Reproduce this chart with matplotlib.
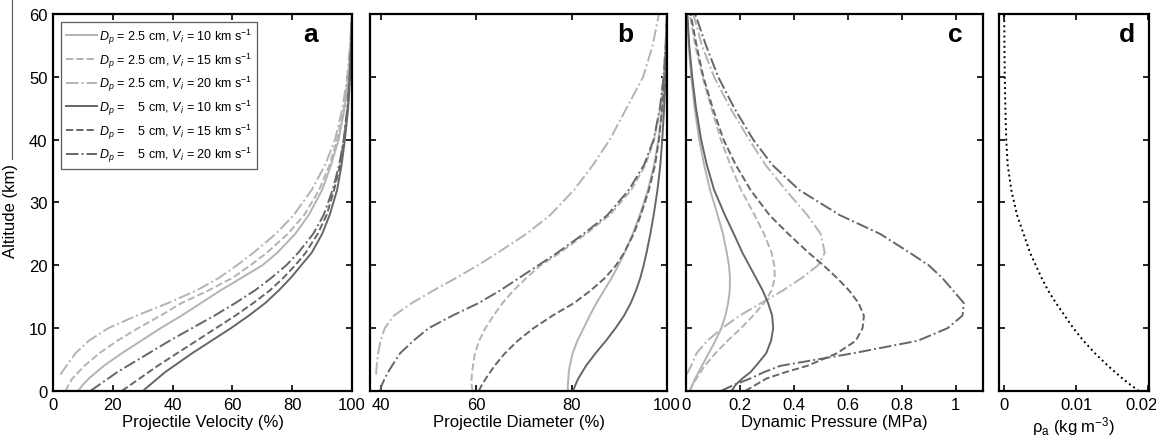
import numpy as np
import matplotlib
matplotlib.use("Agg")
import matplotlib.pyplot as plt
from matplotlib.lines import Line2D
from matplotlib.transforms import ScaledTranslation

plt.rcParams['font.family'] = ['Liberation Sans', 'DejaVu Sans']
plt.rcParams['mathtext.fontset'] = 'custom'
plt.rcParams['mathtext.rm'] = 'Liberation Sans'
plt.rcParams['mathtext.it'] = 'Liberation Sans:italic'
plt.rcParams['mathtext.bf'] = 'Liberation Sans:bold'

## Données (altitude en km)
ALT = [0, 1, 2, 3, 4, 6, 8, 10, 12, 14, 16, 18, 20, 22, 25, 28, 32, 36, 40, 45, 50, 55, 60]
# la courbe 2.5 cm / 20 km/s s'arrête vers 2.6 km
ALT_LDD = [2.6, 3, 4, 6, 8, 10, 12, 14, 16, 18, 20, 22, 25, 28, 32, 36, 40, 45, 50, 55, 60]

LABELS = [r"$D_p$ = 2.5 cm, $V_i$ = 10 km s$^{-1}$",
          r"$D_p$ = 2.5 cm, $V_i$ = 15 km s$^{-1}$",
          r"$D_p$ = 2.5 cm, $V_i$ = 20 km s$^{-1}$",
          r"$D_p$ =    5 cm, $V_i$ = 10 km s$^{-1}$",
          r"$D_p$ =    5 cm, $V_i$ = 15 km s$^{-1}$",
          r"$D_p$ =    5 cm, $V_i$ = 20 km s$^{-1}$"]

# a : vitesse du projectile (%)
VEL_LS = [8.4, 10, 12, 14.5, 17, 23, 29.5, 36, 43, 49.5, 56, 63, 70, 75, 81, 85.5, 90, 93, 95.5, 97.5, 98.8, 99.5, 100]
VEL_LD = [4.2, 5.2, 6.5, 8.5, 10.5, 15.5, 21.5, 28.5, 36, 43, 52, 60, 66, 71.5, 78.5, 84, 89, 92.5, 95, 97.3, 98.7, 99.5, 100]
VEL_LDD = [2.5, 3, 4.5, 7.5, 12, 18.5, 28, 38.5, 48, 55.5, 61.5, 67, 74.5, 80.5, 86.5, 91, 94.3, 96.8, 98.4, 99.3, 100]
VEL_DS = [30, 32.5, 35, 37.5, 40.5, 46.5, 53, 59.5, 65.5, 71, 75.5, 79.5, 83, 86.5, 90, 92.5, 95, 96.5, 97.6, 98.7, 99.3, 99.7, 100]
VEL_DD = [23, 26, 29, 32, 35, 41.5, 48, 54.5, 61, 67, 72.5, 77, 81, 84.5, 88.5, 91.5, 94, 96, 97.3, 98.5, 99.2, 99.7, 100]
VEL_DDD = [12.5, 15.5, 18.5, 21.5, 25, 32, 39, 46.5, 54, 61, 67.5, 73, 78, 82, 87, 90.5, 93.5, 95.7, 97.2, 98.4, 99.2, 99.7, 100]

# b : diametre du projectile (%)
DIA_LS = [79.2, 79.2, 79.3, 79.4, 79.6, 80.2, 81.2, 82.5, 83.8, 85.2, 86.8, 88.4, 89.8, 91.1, 92.8, 94.3, 96, 97.3, 98.2, 99, 99.5, 99.8, 100]
DIA_LD = [59.2, 59.0, 59.0, 59.1, 59.3, 59.7, 60.6, 61.9, 63.6, 65.5, 67.8, 70.5, 73.5, 77.5, 83, 88, 92.5, 95.5, 97.3, 98.6, 99.3, 99.7, 100]
DIA_LDD = [39.0, 39.0, 39.1, 39.4, 39.9, 40.8, 42.7, 46.5, 51, 55.8, 60.3, 64.5, 70.5, 75.5, 80.5, 84.5, 88, 91.5, 95, 97, 98.3]
DIA_DS = [80.3, 80.8, 81.4, 82.2, 83, 85, 87.2, 89.2, 91, 92.4, 93.5, 94.4, 95.1, 95.7, 96.5, 97.2, 98, 98.6, 99, 99.4, 99.7, 99.9, 100]
DIA_DD = [60.5, 61.2, 62, 62.9, 63.8, 66, 68.7, 72, 76, 80.5, 84, 87, 89.3, 91, 93, 94.5, 96.2, 97.5, 98.3, 99, 99.5, 99.8, 100]
DIA_DDD = [39.8, 40.2, 40.8, 41.5, 42.3, 44, 46.8, 50, 55, 60.5, 65, 69, 73, 77, 82.5, 87.5, 92, 95.2, 97.2, 98.5, 99.3, 99.7, 100]

# c : pression dynamique (MPa)
PRES_LS = [0.015, 0.025, 0.035, 0.048, 0.06, 0.085, 0.11, 0.132, 0.147, 0.157, 0.163, 0.164, 0.16, 0.152, 0.138, 0.118, 0.09, 0.068, 0.05, 0.033, 0.02, 0.011, 0.005]
PRES_LD = [0.015, 0.025, 0.04, 0.055, 0.07, 0.11, 0.155, 0.205, 0.25, 0.29, 0.318, 0.33, 0.328, 0.318, 0.29, 0.255, 0.205, 0.165, 0.13, 0.095, 0.062, 0.035, 0.015]
PRES_LDD = [0.004, 0.008, 0.02, 0.04, 0.08, 0.135, 0.2, 0.28, 0.36, 0.43, 0.49, 0.515, 0.5, 0.45, 0.37, 0.295, 0.235, 0.165, 0.105, 0.06, 0.028]
PRES_DS = [0.17, 0.185, 0.21, 0.24, 0.26, 0.298, 0.316, 0.324, 0.32, 0.305, 0.285, 0.26, 0.235, 0.21, 0.178, 0.145, 0.105, 0.078, 0.057, 0.038, 0.024, 0.013, 0.006]
PRES_DD = [0.22, 0.26, 0.3, 0.37, 0.45, 0.56, 0.63, 0.655, 0.66, 0.64, 0.605, 0.56, 0.51, 0.455, 0.38, 0.31, 0.24, 0.185, 0.14, 0.1, 0.065, 0.04, 0.018]
PRES_DDD = [0.13, 0.18, 0.24, 0.29, 0.35, 0.62, 0.86, 0.97, 1.025, 1.03, 0.99, 0.95, 0.9, 0.83, 0.72, 0.57, 0.42, 0.32, 0.25, 0.18, 0.12, 0.075, 0.035]

# d : densite atmospherique (kg m-3)
RHO = [0.0187, 0.0175, 0.0164, 0.0154, 0.0144, 0.0126, 0.0110, 0.0096, 0.0084, 0.0072, 0.0061, 0.0052, 0.0044, 0.0036, 0.0027, 0.0018, 0.0010, 0.0005, 0.0003, 0.00018, 0.0001, 0.00005, 0.00002]

LIGHT = (0.70, 0.70, 0.70)
DARK = (0.40, 0.40, 0.40)
STYLES = [(LIGHT, '-'), (LIGHT, '--'), (LIGHT, '-.'), (DARK, '-'), (DARK, '--'), (DARK, '-.')]
LW = 1.4


def draw_panel(ax, series) :
    """ Trace les 6 courbes d'un panneau (la 3eme utilise ALT_LDD) """
    for k, x in enumerate(series) :
        y = ALT_LDD if k == 2 else ALT
        c, ls = STYLES[k]
        ax.plot(x, y, color=c, ls=ls, lw=LW, label=LABELS[k])


def style_axes(ax, letter, lx, xlim, xticks, xlabel, ylab=False) :
    ax.set_xlim(xlim)
    ax.set_ylim(0, 60)
    ax.set_xticks(xticks)
    ax.set_xticklabels(["%g" % t for t in xticks])
    ax.set_yticks(range(0, 61, 10))
    if not ylab :
        ax.set_yticklabels([])
    ax.tick_params(direction='in', top=True, right=True, length=4, width=1.2, labelsize=12, pad=4)
    for s in ax.spines.values() :
        s.set_linewidth(1.6)
    ax.set_xlabel(xlabel, fontsize=12, labelpad=2)
    ax.text(lx, 0.928, letter, transform=ax.transAxes, fontsize=19, fontweight='bold', ha='center', va='baseline')


fig = plt.figure(figsize=(11.56, 4.39), dpi=100)
B, H = 0.1071, 0.8588
ax_a = fig.add_axes([0.04585, B, 0.2587, H])
ax_b = fig.add_axes([0.3201, B, 0.2569, H])
ax_c = fig.add_axes([0.5932, B, 0.2569, H])
ax_d = fig.add_axes([0.8642, B, 0.1298, H])

draw_panel(ax_a, [VEL_LS, VEL_LD, VEL_LDD, VEL_DS, VEL_DD, VEL_DDD])
draw_panel(ax_b, [DIA_LS, DIA_LD, DIA_LDD, DIA_DS, DIA_DD, DIA_DDD])
draw_panel(ax_c, [PRES_LS, PRES_LD, PRES_LDD, PRES_DS, PRES_DD, PRES_DDD])
ax_d.plot(RHO, ALT, color='k', ls=':', lw=1.4)

style_axes(ax_a, 'a', 0.86, (0, 100), [0, 20, 40, 60, 80, 100], "Projectile Velocity (%)", ylab=True)
style_axes(ax_b, 'b', 0.86, (37.7, 100), [40, 60, 80, 100], "Projectile Diameter (%)")
style_axes(ax_c, 'c', 0.907, (0, 1.1), [0, 0.2, 0.4, 0.6, 0.8, 1], "Dynamic Pressure (MPa)")
style_axes(ax_d, 'd', 0.855, (-0.0007, 0.0201), [0, 0.01, 0.02], r"ρ$_\mathrm{a}$ (kg m$^{-3}$)")

# le dernier label de d reste dans la figure
lab = ax_d.get_xticklabels()[-1]
lab.set_transform(lab.get_transform() + ScaledTranslation(-7/100, 0, fig.dpi_scale_trans))

ax_a.set_ylabel("Altitude (km)", fontsize=12)
ax_a.yaxis.set_label_coords(-0.118, 0.48)

leg = ax_a.legend(loc='upper left', bbox_to_anchor=(0.027, 0.979), borderaxespad=0,
                  fontsize=9, handlelength=2.5, handletextpad=0.15, labelspacing=0.36,
                  fancybox=False, framealpha=1, edgecolor='0.35', borderpad=0.38)
leg.get_frame().set_linewidth(0.9)

# trait vertical parasite a gauche de la figure originale
fig.add_artist(Line2D([11.5/1156, 11.5/1156], [1, 1 - 160/439], transform=fig.transFigure, color='0.35', lw=0.8))

plt.savefig("out.png", dpi=100)
